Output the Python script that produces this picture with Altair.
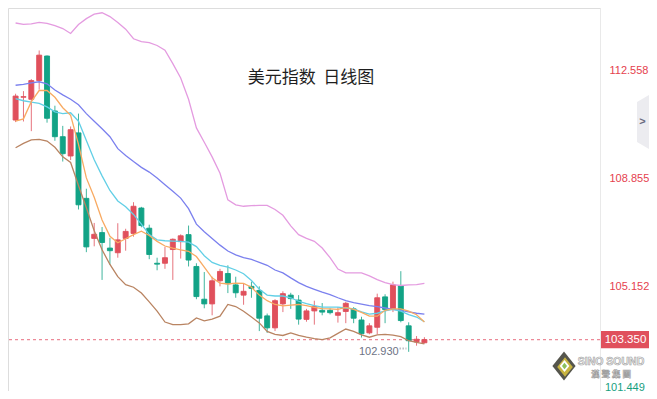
import altair as alt
import pandas as pd

# ---------------- data ----------------
opens = [110.86, 111.64, 111.57, 112.21, 113.05, 111.17, 110.29, 109.63, 110.42, 108.18,
         106.81, 107.01, 106.48, 106.32, 106.81, 106.98, 107.85, 107.16, 105.96, 105.96,
         106.43, 106.70, 106.94, 105.85, 104.73, 104.57, 105.36, 105.61, 105.22, 104.87,
         105.17, 105.03, 104.16, 103.75, 104.57, 104.87, 104.70, 104.04, 104.33, 104.35,
         104.35, 104.18, 104.31, 104.40, 104.02, 103.58, 103.77, 104.81, 104.38, 105.19,
         103.82, 103.27, 103.24]
highs = [111.76, 111.85, 112.26, 113.24, 113.07, 111.35, 110.66, 110.64, 111.08, 108.51,
         107.34, 107.20, 106.83, 107.33, 107.14, 108.05, 107.89, 107.28, 106.15, 106.52,
         106.81, 106.95, 107.25, 105.96, 105.66, 105.50, 105.77, 105.89, 105.50, 105.26,
         105.33, 105.17, 104.24, 104.73, 105.00, 104.95, 104.87, 104.40, 104.68, 104.60,
         104.42, 104.46, 104.64, 104.46, 104.13, 103.91, 104.92, 104.90, 105.33, 105.69,
         103.94, 103.47, 103.43]
lows = [110.79, 110.81, 110.48, 111.90, 110.77, 110.15, 109.44, 109.49, 107.80, 106.34,
        106.54, 105.39, 105.91, 106.15, 106.39, 106.87, 107.19, 106.10, 105.72, 105.77,
        105.39, 106.12, 105.85, 104.73, 104.42, 104.18, 105.17, 104.94, 104.78, 104.54,
        104.78, 103.64, 103.58, 103.64, 104.29, 104.40, 103.86, 103.96, 103.86, 104.18,
        104.21, 103.93, 103.91, 103.91, 103.42, 103.53, 103.53, 103.91, 104.29, 103.94,
        102.93, 103.14, 103.22]
closes = [111.68, 111.66, 112.21, 113.08, 110.92, 110.29, 109.71, 110.53, 107.96, 106.52,
          106.95, 106.67, 106.39, 106.76, 107.05, 107.91, 107.25, 106.26, 105.93, 106.15,
          106.78, 106.90, 106.07, 104.82, 104.57, 105.36, 105.68, 105.26, 104.95, 105.00,
          105.10, 104.08, 103.75, 104.68, 104.92, 104.75, 104.05, 104.33, 104.48, 104.29,
          104.27, 104.27, 104.59, 104.08, 103.55, 103.82, 104.78, 104.38, 105.22, 104.00,
          103.31, 103.36, 103.35]

ma5 = [110.82, 110.90, 111.49, 111.87, 111.87, 111.64, 111.28, 111.02, 110.03, 108.88,
       108.22, 107.44, 106.88, 106.66, 106.80, 106.94, 107.06, 106.91, 106.71, 106.55,
       106.48, 106.42, 106.37, 106.19, 105.83, 105.46, 105.28, 105.25, 105.28, 105.27,
       105.14, 104.87, 104.68, 104.55, 104.50, 104.53, 104.55, 104.51, 104.45, 104.41,
       104.40, 104.38, 104.45, 104.38, 104.28, 104.15, 104.15, 104.35, 104.40, 104.40,
       104.32, 104.20, 103.95]
ma10 = [111.59, 111.52, 111.47, 111.43, 111.31, 111.14, 111.08, 111.11, 110.82, 110.16,
        109.50, 108.95, 108.45, 108.09, 107.89, 107.63, 107.30, 106.94, 106.76, 106.73,
        106.72, 106.71, 106.68, 106.53, 106.22, 105.99, 105.89, 105.83, 105.73, 105.60,
        105.37, 105.07, 104.87, 104.84, 104.84, 104.78, 104.66, 104.58, 104.51, 104.46,
        104.46, 104.46, 104.43, 104.40, 104.30, 104.22, 104.25, 104.33, 104.38, 104.32,
        104.20, 104.12, 103.96]
boll_mid = [112.05, 112.08, 112.13, 112.17, 112.10, 111.89, 111.72, 111.57, 111.38, 111.08,
            110.82, 110.56, 110.29, 109.88, 109.65, 109.44, 109.24, 109.08, 108.88, 108.65,
            108.42, 108.19, 107.83, 107.30, 107.04, 106.81, 106.58, 106.38, 106.25, 106.15,
            106.09, 105.99, 105.89, 105.73, 105.63, 105.46, 105.30, 105.17, 105.07, 104.97,
            104.89, 104.78, 104.68, 104.61, 104.56, 104.51, 104.48, 104.43, 104.38, 104.35,
            104.30, 104.25, 104.22]
boll_up = [114.18, 114.13, 114.15, 114.20, 114.17, 114.09, 113.99, 113.82, 114.13, 114.33,
           114.48, 114.53, 114.40, 114.20, 113.97, 113.64, 113.54, 113.51, 113.41, 113.25,
           112.79, 112.30, 111.57, 110.59, 110.10, 109.60, 109.04, 108.13, 107.96, 107.91,
           107.93, 107.94, 107.94, 107.80, 107.60, 107.24, 106.94, 106.81, 106.71, 106.48,
           106.15, 105.76, 105.63, 105.63, 105.63, 105.53, 105.40, 105.30, 105.23, 105.20,
           105.22, 105.23, 105.27]
boll_dn = [109.91, 110.06, 110.18, 110.20, 110.14, 109.93, 109.60, 109.41, 108.62, 107.86,
           107.07, 106.42, 105.92, 105.50, 105.23, 105.14, 104.94, 104.64, 104.32, 103.95,
           103.86, 103.86, 103.89, 104.09, 103.99, 104.05, 104.15, 104.55, 104.48, 104.32,
           104.12, 103.92, 103.63, 103.53, 103.49, 103.58, 103.49, 103.43, 103.38, 103.35,
           103.41, 103.56, 103.71, 103.63, 103.51, 103.43, 103.51, 103.53, 103.50, 103.45,
           103.31, 103.25, 103.20]

axis_ticks = [112.558, 108.855, 105.152]
last_price = 103.350
low_price = 102.930
low_index = 50
bottom_label = "101.449"
title_text = "美元指数\u00a0\u00a0日线图"

# ---------------- styling ----------------
RED = "#e0505c"
GREEN = "#12a386"
W, H = 592, 383

idx = list(range(len(opens)))
candles = pd.DataFrame({
    "i": idx, "open": opens, "high": highs, "low": lows, "close": closes,
    "dir": ["up" if c >= o else "down" for o, c in zip(opens, closes)],
})
lines = pd.DataFrame({"i": idx, "ma5": ma5, "ma10": ma10, "mid": boll_mid,
                      "up": boll_up, "dn": boll_dn})
one = pd.DataFrame({"k": [0]})

xs = alt.Scale(domain=[-0.33, 73.7], nice=False, zero=False)
ys = alt.Scale(domain=[101.59, 114.693], nice=False, zero=False)
yaxis = alt.Axis(orient="right", values=axis_ticks, format=".3f", labelColor="#e5414e",
                 labelFontSize=11, labelFont="Liberation Sans", ticks=False, grid=False,
                 domainColor="#e9e9e9", domainWidth=1, labelPadding=9, labelFlush=False,
                 title=None)
col = alt.Color("dir:N", scale=alt.Scale(domain=["up", "down"], range=[RED, GREEN]), legend=None)


def X(f="i"):
    return alt.X(f"{f}:Q", scale=xs, axis=None)


def Y(f):
    return alt.Y(f"{f}:Q", scale=ys, axis=yaxis)


wicks = alt.Chart(candles).mark_rule(strokeWidth=1, opacity=0.8).encode(
    x=X(), y=Y("low"), y2="high:Q", color=col)
bodies = alt.Chart(candles).mark_bar(size=5, strokeWidth=0.9).encode(
    x=X(), y=Y("open"), y2="close:Q", color=col, stroke=col)

line_specs = [("up", "#e49be0"), ("dn", "#b98462"), ("mid", "#7b80ee"),
              ("ma10", "#62cfe6"), ("ma5", "#f8aa62")]
line_layers = [
    alt.Chart(lines).mark_line(strokeWidth=1.3, color=c).encode(x=X(), y=Y(f))
    for f, c in line_specs
]

price_rule = alt.Chart(one).mark_rule(color="#ec8a98", strokeDash=[3, 3], strokeWidth=1.2,
                                      opacity=1).encode(
    y=alt.Y(datum=last_price, scale=ys, axis=yaxis))

title = alt.Chart(one).mark_text(text=title_text, font="Noto Sans CJK SC", fontSize=17,
                                 color="#1e1e1e", align="center", baseline="middle").encode(
    x=alt.value(303), y=alt.value(70))

low_text = alt.Chart(one).mark_text(text=f"{low_price:.3f}", font="Liberation Sans", fontSize=11,
                                    color="#6e7385", align="right", baseline="middle", dx=-10).encode(
    x=alt.X(datum=low_index, scale=xs, axis=None),
    y=alt.Y(datum=low_price, scale=ys, axis=yaxis))
low_tick = alt.Chart(one).mark_rule(color="#9a9aa5", strokeDash=[1, 2], strokeWidth=2).encode(
    x=alt.X(datum=low_index - 1.15, scale=xs, axis=None),
    x2=alt.X2(datum=low_index - 0.3),
    y=alt.Y(datum=low_price + 0.11, scale=ys, axis=yaxis))

tag = alt.Chart(one).mark_point(
    shape="M-1,-0.36L1,-0.36L1,0.36L-1,0.36Z", size=2304, filled=True, opacity=1,
    color="#e0505c").encode(
    x=alt.value(617), y=alt.Y(datum=last_price, scale=ys, axis=yaxis))
tag_text = alt.Chart(one).mark_text(text=f"{last_price:.3f}", font="Liberation Sans", fontSize=11.5,
                                    color="white", align="center", baseline="middle").encode(
    x=alt.value(617.5), y=alt.Y(datum=last_price, scale=ys, axis=yaxis))

bottom_text = alt.Chart(one).mark_text(text=bottom_label, font="Liberation Sans", fontSize=11,
                                       color="#17a07e", align="left", baseline="middle").encode(
    x=alt.value(597), y=alt.value(379.5))

tab = alt.Chart(one).mark_point(
    shape="M-0.222,-0.74L0.222,-1L0.222,1L-0.222,0.74Z", size=2916, filled=True, opacity=1,
    color="#ececf0").encode(x=alt.value(635), y=alt.value(114))
chevron = alt.Chart(one).mark_text(text=">", font="Liberation Sans", fontSize=11, fontWeight="bold",
                                   color="#6b6b80", align="center", baseline="middle").encode(
    x=alt.value(634.5), y=alt.value(114))

logo_outer = alt.Chart(one).mark_point(shape="M0,-1L0.8,0L0,1L-0.8,0Z", size=841, filled=True,
                                       opacity=1, color="#55554c").encode(
    x=alt.value(556), y=alt.value(358))
logo_mid = alt.Chart(one).mark_point(shape="M0,-1L0.8,0L0,1L-0.8,0Z", size=380, filled=True,
                                     opacity=1, color="#c8b440").encode(
    x=alt.value(557), y=alt.value(359))
logo_in = alt.Chart(one).mark_point(shape="M0,-1L0.8,0L0,1L-0.8,0Z", size=150, filled=True,
                                    opacity=1, color="#ffffff").encode(
    x=alt.value(556.5), y=alt.value(358))
logo_core = alt.Chart(one).mark_point(shape="M0,-1L0.8,0L0,1L-0.8,0Z", size=40, filled=True,
                                      opacity=1, color="#8cc05a").encode(
    x=alt.value(556.5), y=alt.value(358))
logo_t1 = alt.Chart(one).mark_text(text="SINO SOUND", font="Liberation Sans", fontSize=10.5,
                                   fontWeight="bold", color="#f7f7f7", stroke="#a0a0a0",
                                   strokeWidth=0.6, align="center", baseline="middle").encode(
    x=alt.value(603), y=alt.value(354))
logo_t2 = alt.Chart(one).mark_text(text="漢  聲  集  團", font="Noto Sans CJK TC", fontSize=8.5,
                                   fontWeight="bold", color="#f7f7f7", stroke="#a0a0a0",
                                   strokeWidth=0.6, align="center", baseline="middle").encode(
    x=alt.value(603), y=alt.value(365.5))

chart = alt.layer(
    price_rule, wicks, bodies, *line_layers, low_tick, low_text, title,
    tag, tag_text, bottom_text, tab, chevron,
    logo_outer, logo_mid, logo_in, logo_core, logo_t1, logo_t2,
).properties(
    width=W, height=H,
    padding={"left": 0, "top": 0, "right": 49, "bottom": 0},
    autosize=alt.AutoSizeParams(type="none"),
).configure_view(stroke=None).configure(background="white")

chart.save("out.html", embed_options={"renderer": "svg", "actions": False})
